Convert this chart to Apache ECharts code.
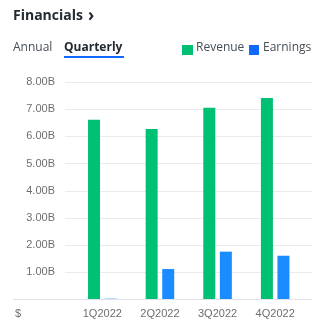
<!DOCTYPE html>
<html><head><meta charset="utf-8">
<script src="https://cdn.jsdelivr.net/npm/echarts@6/dist/echarts.min.js"></script>
<style>html,body{margin:0;padding:0;background:#fff}#c{width:327px;height:326px}</style>
</head><body><div id="c"></div>
<script>
const categories = ['1Q2022', '2Q2022', '3Q2022', '4Q2022'];
const revenue = [6.61, 6.27, 7.05, 7.41];   // billions
const earnings = [0.03, 1.12, 1.76, 1.61];  // billions
const yMin = 0, yMax = 8, yStep = 1;
const chart = echarts.init(document.getElementById('c'));
const font = '"Open Sans", sans-serif';
chart.setOption({
  animation: false,
  grid: [
    {left: 73.5, right: 23, top: 82, bottom: 26.5},
    {left: 65, right: 15, top: 82, bottom: 26.5}
  ],
  xAxis: [
    {gridIndex: 0, type: 'category', data: categories,
     axisLine: {show: false}, axisTick: {show: false},
     axisLabel: {color: '#6e6e6e', fontSize: 11, fontFamily: 'Liberation Sans, Arial', margin: 9}},
    {gridIndex: 1, type: 'value', min: 0, max: 1, show: false}
  ],
  yAxis: [
    {gridIndex: 0, type: 'value', min: yMin, max: yMax, interval: yStep, show: false},
    {gridIndex: 1, type: 'value', min: yMin, max: yMax, interval: yStep,
     axisLine: {show: false}, axisTick: {show: false},
     splitLine: {lineStyle: {color: '#ebebeb', width: 1}},
     axisLabel: {color: '#6e6e6e', fontSize: 11, fontFamily: 'Liberation Sans, Arial', margin: 10,
       formatter: v => v === 0 ? '' : v.toFixed(2) + 'B'}}
  ],
  series: [
    {name: 'Revenue', type: 'bar', xAxisIndex: 0, yAxisIndex: 0, data: revenue,
     barWidth: 12, barGap: '38%', itemStyle: {color: '#00c073'}},
    {name: 'Earnings', type: 'bar', xAxisIndex: 0, yAxisIndex: 0, data: earnings,
     barWidth: 12, itemStyle: {color: '#1a8cff'}}
  ],
  graphic: [
    {type: 'line', shape: {x1: 13, y1: 299.5, x2: 312, y2: 299.5}, style: {stroke: '#e2e3ea', lineWidth: 1}, z: 10},
    {type: 'text', left: 15, top: 308, style: {text: '$', fill: '#6e6e6e', font: '11px Liberation Sans, Arial'}},
    {type: 'text', left: 13, top: 9, style: {text: 'Financials', fill: '#232a31', font: 'bold 14px ' + font}},
    {type: 'text', left: 88, top: 8, style: {text: '›', fill: '#232a31', font: 'bold 17px ' + font}},
    {type: 'text', left: 13, top: 42, style: {text: 'Annual', fill: '#464e56', font: '12px ' + font}},
    {type: 'text', left: 64, top: 42, style: {text: 'Quarterly', fill: '#232a31', font: 'bold 12px ' + font}},
    {type: 'rect', shape: {x: 64, y: 56, width: 60, height: 2}, style: {fill: '#0f69ff'}},
    {type: 'rect', shape: {x: 182, y: 45, width: 11, height: 10}, style: {fill: '#00c073'}},
    {type: 'text', left: 196, top: 42, style: {text: 'Revenue', fill: '#464e56', font: '12px ' + font}},
    {type: 'rect', shape: {x: 249, y: 45, width: 10, height: 10}, style: {fill: '#0f69ff'}},
    {type: 'text', left: 263, top: 42, style: {text: 'Earnings', fill: '#464e56', font: '12px ' + font}}
  ]
});
</script></body></html>
